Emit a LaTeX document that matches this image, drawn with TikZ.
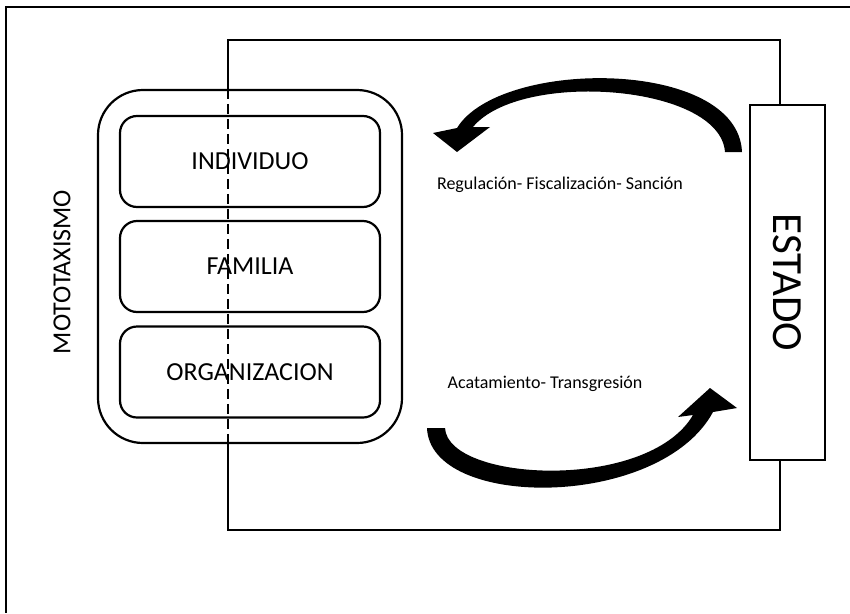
\documentclass[tikz,border=0pt]{standalone}
\usepackage{fontspec}
\setmainfont{Carlito}
\begin{document}
\begin{tikzpicture}[x=1pt,y=-1pt,line width=2.2pt,
  levelbox/.style={draw,fill=white,rounded corners=17pt,minimum width=260pt,minimum height=91pt,inner sep=0pt,font=\fontsize{26}{30}\selectfont},
  groupbox/.style={draw,fill=white,rounded corners=45pt,minimum width=304pt,minimum height=353pt,inner sep=0pt},
  statebox/.style={draw,fill=white,rotate=-90,minimum width=355pt,minimum height=75pt,inner sep=0pt,font=\fontsize{43}{50}\selectfont},
  flowlabel/.style={font=\fontsize{18}{22}\selectfont,inner sep=0pt},
  sidelabel/.style={rotate=90,font=\fontsize{26}{30}\selectfont,inner sep=0pt},
  bigarrow/.style={fill=black,draw=none}]
\useasboundingbox (0,0) rectangle (850,613);
% outer frame
\coordinate (otl) at (6,7);
\draw (850,7) -- (otl) -- (6,613);
% inner frame
\coordinate (ftl) at (228,40);
\coordinate (fbr) at (780,530);
\draw (ftl) rectangle (fbr);
% group
\node[groupbox] (grp) at (250,266.5) {};
\node[levelbox] (ind) at (250,161.5) {INDIVIDUO};
\node[levelbox] (fam) at (250,266.5) {FAMILIA};
\node[levelbox] (org) at (250,372) {ORGANIZACION};
\draw[dash pattern=on 10pt off 5pt] (grp.north -| ftl) -- (grp.south -| ftl);
\node[sidelabel] (moto) at (62,272) {MOTOTAXISMO};
% state
\node[statebox] (est) at (787.5,282.5) {ESTADO};
% labels
\node[flowlabel] (reg) at (560,185) {Regulación- Fiscalización- Sanción};
\node[flowlabel] (aca) at (545,384) {Acatamiento- Transgresión};
% arrows
\fill[bigarrow] (742,152) .. controls (738,58) and (500,58) .. (457,128) -- (433,133) -- (457,152) -- (490,127) -- (473,127) .. controls (520,70) and (720,84) .. (725,152) -- cycle;
\fill[bigarrow] (427,428) .. controls (430,510) and (660,510) .. (713,412) -- (737,408) -- (710,388) -- (678,417) -- (693,415) .. controls (648,492) and (448,482) .. (445,428) -- cycle;
\end{tikzpicture}
\end{document}
